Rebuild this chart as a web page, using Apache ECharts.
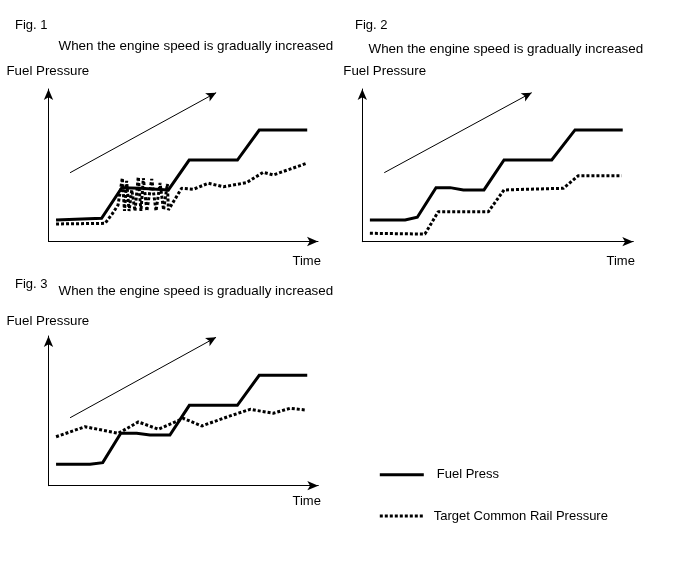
<!DOCTYPE html>
<html>
<head>
<meta charset="utf-8">
<script src="https://cdn.jsdelivr.net/npm/echarts@6/dist/echarts.min.js"></script>
<style>
html,body{margin:0;padding:0;background:#fff;}
#chart{width:691px;height:562px;}
</style>
</head>
<body>
<div id="chart"></div>
<script>
// ---- Data (time 0-100, pressure 0-100 in each panel) ----
var fig1Fuel = [[2.8,14.1],[19.7,15.2],[27.2,35.3],[34.0,34.9],[44.5,33.8],[52.2,53.4],[70.1,53.4],[78.2,73.1],[96.0,73.1]];
var fig1Target = [[2.8,11.5],[21.0,11.9],[23.6,18.0],[25.8,23.9],[27.4,41.6],[28.2,20.0],[29.0,39.7],[29.9,20.0],[30.9,33.8],[32.1,20.0],[33.3,42.3],[34.3,20.0],[35.2,41.6],[36.5,20.0],[38.3,41.0],[39.9,20.0],[41.4,38.4],[42.7,20.7],[44.1,37.7],[44.5,20.7],[49.4,34.9],[53.7,34.2],[59.3,38.2],[64.9,35.9],[73.5,38.6],[79.7,45.4],[83.4,43.6],[95.8,51.3]];
var fig2Fuel = [[2.8,14.2],[15.8,14.2],[20.3,16.0],[27.2,35.4],[32.4,35.4],[37.3,33.9],[44.9,33.9],[52.3,53.5],[69.9,53.5],[78.5,73.2],[96.1,73.2]];
var fig2Target = [[2.8,5.5],[23.1,5.0],[28.0,19.6],[46.5,19.6],[52.3,33.9],[74.2,35.0],[79.7,43.2],[95.7,43.2]];
var fig3Fuel = [[2.8,14.3],[15.4,14.3],[20.1,15.4],[26.8,35.0],[32.7,35.0],[37.6,33.9],[45.0,33.9],[52.2,53.7],[70.0,53.7],[78.1,73.7],[95.9,73.7]];
var fig3Target = [[2.8,32.7],[13.5,39.4],[25.9,35.0],[33.3,42.6],[40.7,37.7],[50.0,45.0],[56.8,39.9],[67.3,46.6],[74.7,51.0],[83.3,48.4],[89.5,51.7],[95.1,50.6]];
// engine-speed arrows: [start, end]
var fig1Arrow = [[8.0,45.1],[62.2,97.6]];
var fig2Arrow = [[8.1,45.2],[62.5,97.6]];
var fig3Arrow = [[8.0,45.4],[62.1,99.1]];
// texts
var figLabels = ['Fig. 1','Fig. 2','Fig. 3'];
var subtitle = 'When the engine speed is gradually increased';
var yName = 'Fuel Pressure';
var xName = 'Time';
var seriesNames = ['Fuel Press','Target Common Rail Pressure'];

var FONT = '"Liberation Sans", Arial, sans-serif';
var chart = echarts.init(document.getElementById('chart'), null, {renderer:'canvas'});

var grids = [
  {left:48.5, top:89, width:269.5, height:152.5},
  {left:362.3, top:89, width:271, height:152.7},
  {left:48.5, top:336, width:269.8, height:149.7}
];

function axis(idx){
  return {
    type:'value', gridIndex:idx, min:0, max:100,
    axisLine:{show:true, onZero:false, symbol:['none','arrow'], symbolSize:[7,11], lineStyle:{color:'#000', width:1}},
    axisTick:{show:false}, axisLabel:{show:false}, splitLine:{show:false}
  };
}

var solidStyle = {color:'#000', width:3, type:'solid', join:'miter'};
var dotStyle = {color:'#000', width:3, type:[3,2], cap:'butt'};

function mkSeries(idx, fuel, target, arrow){
  return [
    {type:'line', name:seriesNames[1], xAxisIndex:idx, yAxisIndex:idx, data:target, symbol:'none', lineStyle:dotStyle, itemStyle:{color:'#000'}, silent:true, z:2},
    {type:'line', name:seriesNames[0], xAxisIndex:idx, yAxisIndex:idx, data:fuel, symbol:'none', lineStyle:solidStyle, itemStyle:{color:'#000'}, silent:true, z:3,
      markLine:{silent:true, symbol:['none','arrow'], symbolSize:[7,10], label:{show:false},
        lineStyle:{color:'#000', width:1, type:'solid'},
        emphasis:{disabled:true},
        data:[[{coord:arrow[0]},{coord:arrow[1]}]]}}
  ];
}

function txt(s, x, y, size){
  size = size || 13;
  return {type:'text', x:x, y:y, silent:true,
    style:{text:s, fill:'#000', font:size+'px '+FONT, fontSize:size, fontFamily:FONT, verticalAlign:'middle', textVerticalAlign:'middle', align:'left'}};
}

var legendCommon = {orient:'vertical', padding:0, itemWidth:44, itemHeight:14, selectedMode:false,
  itemStyle:{color:'rgba(0,0,0,0)', borderWidth:0, opacity:0}};

var option = {
  animation:false,
  backgroundColor:'#fff',
  grid:grids,
  xAxis:[axis(0),axis(1),axis(2)],
  yAxis:[axis(0),axis(1),axis(2)],
  legend:[
    Object.assign({left:378.3, top:468.3, data:[seriesNames[0]], lineStyle:{width:3},
      textStyle:{fontSize:13, fontFamily:FONT, color:'#000', padding:[0,0,0,8]}}, legendCommon),
    Object.assign({left:378.3, top:509.5, data:[seriesNames[1]], lineStyle:{width:3},
      textStyle:{fontSize:13, fontFamily:FONT, color:'#000', padding:[0,0,0,5]}}, legendCommon)
  ],
  series: [].concat(mkSeries(0, fig1Fuel, fig1Target, fig1Arrow), mkSeries(1, fig2Fuel, fig2Target, fig2Arrow), mkSeries(2, fig3Fuel, fig3Target, fig3Arrow)),
  graphic:[
    txt(figLabels[0], 15, 25),
    txt(subtitle, 58.5, 46, 13.4),
    txt(yName, 6.5, 71.7, 13.3),
    txt(xName, 292.5, 261.5),
    txt(figLabels[1], 355, 25),
    txt(subtitle, 368.5, 49, 13.4),
    txt(yName, 343.3, 71, 13.3),
    txt(xName, 606.5, 261.5),
    txt(figLabels[2], 15, 284),
    txt(subtitle, 58.5, 291.7, 13.4),
    txt(yName, 6.5, 321.7, 13.3),
    txt(xName, 292.5, 501.7)
  ]
};
chart.setOption(option);
</script>
</body>
</html>
